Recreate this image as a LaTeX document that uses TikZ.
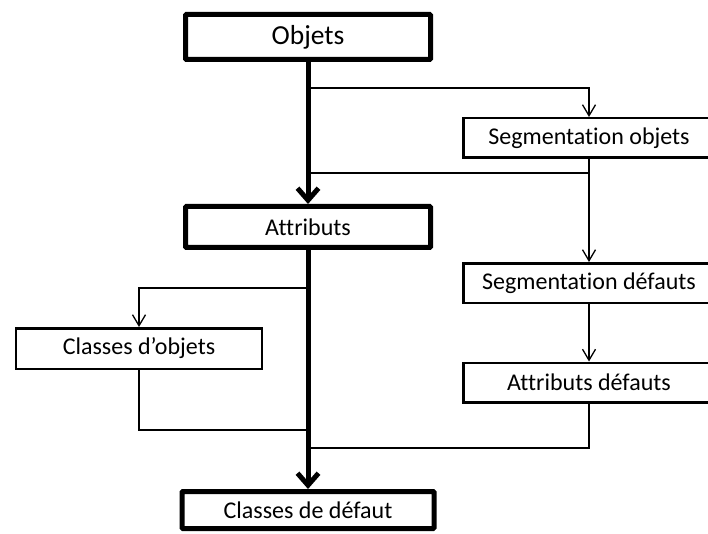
\documentclass[tikz,border=0pt]{standalone}
\usepackage{fontspec}
\setmainfont{Carlito}[Ligatures={TeX,NoCommon}]
\usetikzlibrary{arrows.meta}

\begin{document}
\begin{tikzpicture}[x=1pt, y=-1pt, % 1 unit = 1 px of the figure
          mainbox/.style={draw, line width=5pt, rounded corners=1pt, fill=white, minimum width=245pt, minimum height=41pt, inner sep=0pt, font=\fontsize{24}{28}\selectfont},
          stepbox/.style={draw, line width=2.5pt, fill=white, minimum width=251pt, minimum height=39.5pt, inner sep=0pt, font=\fontsize{24}{28}\selectfont},
          trunk/.style={line width=5pt, -{Straight Barb[length=12pt, width=21pt]}},
          branch/.style={line width=1.3pt, -{Straight Barb[length=11pt, width=13pt]}},
          link/.style={line width=1.3pt}
        ]
        \useasboundingbox (0,0) rectangle (708,534);
        \clip (0,0) rectangle (708,534);

        % Chaine principale
        \node[mainbox, minimum height=45pt, font=\fontsize{27.5}{32}\selectfont] (objets) at (308,37) {Objets};
        \node[mainbox] (attr) at (308,227) {Attributs};
        \node[mainbox, minimum width=252pt, minimum height=37pt] (cldef) at (308,510) {Classes de défaut};

        % Branche droite
        \node[stepbox] (segobj) at (589,138) {Segmentation objets};
        \node[stepbox] (segdef) at (589,283) {Segmentation défauts};
        \node[stepbox] (attrdef) at (589,382.5) {Attributs défauts};

        % Branche gauche
        \node[stepbox, minimum width=246pt, minimum height=40.5pt] (clobj) at (139,348.5) {Classes d'objets};

        % Points de jonction sur le tronc
        \coordinate (fork1) at (objets.south |- 0,88);
        \coordinate (join1) at (objets.south |- 0,173);
        \coordinate (fork2) at (attr.south |- 0,288);
        \coordinate (join2) at (attr.south |- 0,430);
        \coordinate (join3) at (attr.south |- 0,448);

        \draw[trunk] (objets) -- (attr);
        \draw[trunk] (attr) -- (cldef);

        \draw[branch] (fork1) -| (segobj);
        \draw[link] (segobj.south) |- (join1);
        \draw[branch] (segobj) -- (segdef);
        \draw[branch] (segdef) -- (attrdef);
        \draw[link] (attrdef.south) |- (join3);

        \draw[branch] (fork2) -| (clobj);
        \draw[link] (clobj.south) |- (join2);

        \end{tikzpicture}
\end{document}
